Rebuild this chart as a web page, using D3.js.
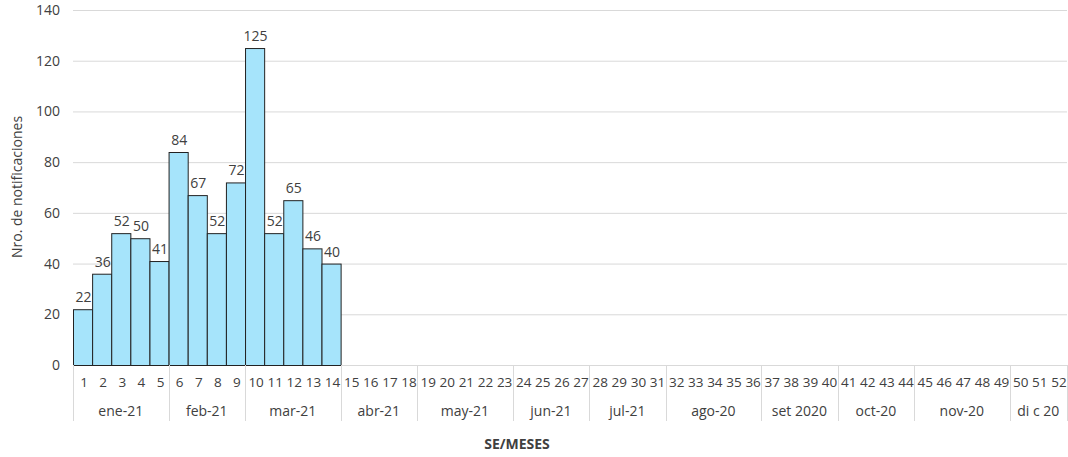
<!DOCTYPE html>
<html><head><meta charset="utf-8">
<script src="https://cdn.jsdelivr.net/npm/d3@7"></script>
<style>body{margin:0;background:#fff}svg{display:block}text{font-family:"Open Sans","Noto Sans",sans-serif;fill:#404040}</style>
</head><body><svg id="c" width="1068" height="457"></svg>
<script>
const weeks = d3.range(1, 53).map(String);
const values = [22,36,52,50,41,84,67,52,72,125,52,65,46,40];
const months = ["ene-21","feb-21","mar-21","abr-21","may-21","jun-21","jul-21","ago-20","set 2020","oct-20","nov-20","di c 20"];
const monthWeeks = [5,4,5,4,5,4,4,5,4,4,5,3];
const yTicks = [0,20,40,60,80,100,120,140];

const svg = d3.select("#c");
const L = 73, R = 1067, T = 10, B = 365;
const x = d3.scaleBand().domain(weeks).range([L, R]).padding(0);
const y = d3.scaleLinear().domain([0, 140]).range([B, T]);

// gridlines
svg.append("g").selectAll("line").data(yTicks).join("line")
  .attr("x1", L).attr("x2", R).attr("y1", d => y(d)+0.5).attr("y2", d => y(d)+0.5)
  .attr("stroke", "#d9d9d9").attr("stroke-width", 1);

// y axis labels
const ya = svg.append("g").attr("transform", `translate(${L},0)`)
  .call(d3.axisLeft(y).tickValues(yTicks).tickSize(0).tickPadding(13));
ya.select(".domain").remove();
ya.selectAll("text").style("font-size", "14px").attr("fill", "#404040");

// bars
const data = values.map((v, i) => ({w: weeks[i], v}));
svg.append("g").selectAll("rect").data(data).join("rect")
  .attr("x", d => x(d.w)+0.5).attr("y", d => y(d.v)+0.5)
  .attr("width", x.bandwidth()).attr("height", d => B - y(d.v))
  .attr("fill", "#a6e4fb").attr("stroke", "#222").attr("stroke-width", 1);

// value labels
svg.append("g").selectAll("text").data(data).join("text")
  .attr("x", d => x(d.w) + x.bandwidth()/2 + 1).attr("y", d => y(d.v) - 7)
  .attr("text-anchor", "middle").style("font-size", "14px").text(d => d.v);

// week labels
const xa = svg.append("g").attr("transform", `translate(0,${B})`)
  .call(d3.axisBottom(x).tickSize(0).tickPadding(12));
xa.select(".domain").remove();
xa.selectAll("text").style("font-size", "13.5px").attr("fill", "#404040").attr("dx", "1.5");

// month groups
let start = 0;
const groups = months.map((m, i) => { const g = {m, s: start, e: start + monthWeeks[i]}; start += monthWeeks[i]; return g; });
const bounds = [0].concat(groups.map(g => g.e));
svg.append("g").selectAll("line").data(bounds).join("line")
  .attr("x1", d => Math.round(d < 52 ? x(weeks[d]) : R)+0.5)
  .attr("x2", d => Math.round(d < 52 ? x(weeks[d]) : R)+0.5)
  .attr("y1", B).attr("y2", 421).attr("stroke", "#d9d9d9");
svg.append("g").selectAll("text").data(groups).join("text")
  .attr("x", g => (x(weeks[g.s]) + (g.e < 52 ? x(weeks[g.e]) : R)) / 2)
  .attr("y", 416).attr("text-anchor", "middle").style("font-size", "14px").text(g => g.m);

// axis titles
svg.append("text").attr("x", 517).attr("y", 449).attr("text-anchor", "middle")
  .style("font-size", "14px").style("font-weight", "bold").text("SE/MESES");
svg.append("text").attr("transform", "translate(22,187) rotate(-90)")
  .attr("text-anchor", "middle").style("font-size", "14px").text("Nro. de notificaciones");
</script></body></html>
